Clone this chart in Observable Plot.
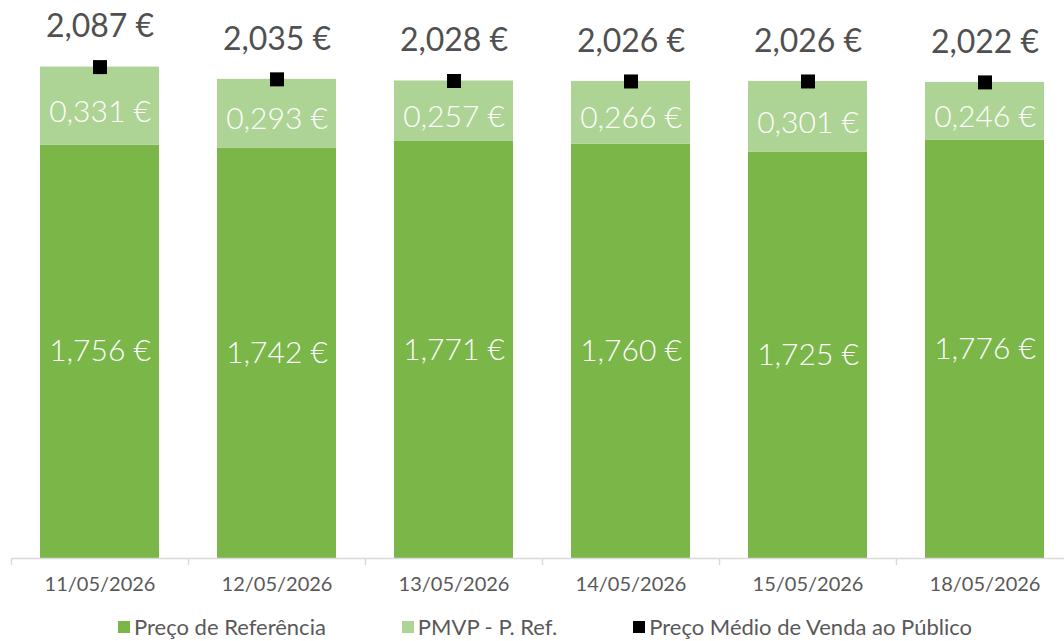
<!DOCTYPE html>
<html>
<head>
<meta charset="utf-8">
<script src="https://cdn.jsdelivr.net/npm/d3@7"></script>
<script src="https://cdn.jsdelivr.net/npm/@observablehq/plot@0.6"></script>
<style>
  body { margin: 0; background: #fff; font-family: Lato, "Open Sans", sans-serif; }
  #legend { display: flex; justify-content: center; gap: 76px; font-size: 22px; color: #595959; margin-left: 26px; margin-top: 10px; line-height: 24px; }
  #legend .it { display: flex; align-items: center; gap: 4px; }
  #legend .sw { width: 12px; height: 12px; display: inline-block; }
</style>
</head>
<body>
<div id="chart"></div>
<div id="legend"></div>
<script>
const dates = ["11/05/2026","12/05/2026","13/05/2026","14/05/2026","15/05/2026","18/05/2026"];
const precoReferencia = [1.756, 1.742, 1.771, 1.760, 1.725, 1.776];
const pmvpMenosRef = [0.331, 0.293, 0.257, 0.266, 0.301, 0.246];
const precoMedio = [2.087, 2.035, 2.028, 2.026, 2.026, 2.022];
const seriesNames = ["Preço de Referência", "PMVP - P. Ref.", "Preço Médio de Venda ao Público"];
const colors = ["#7AB648", "#ADD494", "#000000"];

const loc = d3.formatLocale({decimal: ",", thousands: ".", grouping: [3], currency: ["", " €"]});
const f3 = loc.format(".3f");
const fmt = v => f3(v) + " €";

const segs = [];
dates.forEach((d, i) => {
  segs.push({date: d, s: seriesNames[0], y1: 0, y2: precoReferencia[i], v: precoReferencia[i]});
  segs.push({date: d, s: seriesNames[1], y1: precoReferencia[i], y2: precoReferencia[i] + pmvpMenosRef[i], v: pmvpMenosRef[i]});
});
const totals = dates.map((d, i) => ({date: d, v: precoMedio[i]}));

const W = 1064, ML = 11, MR = -9;
const step = (W - ML - MR) / dates.length;

const plot = Plot.plot({
  width: W,
  height: 605,
  marginLeft: ML,
  marginRight: MR,
  marginTop: 40,
  marginBottom: 47,
  style: {fontFamily: "Lato, 'Open Sans', sans-serif", background: "#fff"},
  x: {domain: dates, paddingInner: 0.33, paddingOuter: 0.165, label: null},
  y: {domain: [0, 2.2], axis: null},
  color: {domain: seriesNames.slice(0, 2), range: colors.slice(0, 2)},
  marks: [
    Plot.barY(segs, {x: "date", y1: "y1", y2: "y2", fill: "s"}),
    Plot.ruleY([0], {stroke: "#d9d9d9", strokeWidth: 1.5}),
    Plot.axisX({tickSize: 7, stroke: "#d9d9d9", strokeWidth: 1.5, dx: -step / 2, tickFormat: () => ""}),
    Plot.axisX({tickSize: 0, tickPadding: 18, fontSize: 20, fill: "#595959", label: null}),
    Plot.text(segs.filter(d => d.s === seriesNames[0]), {x: "date", y: d => (d.y1 + d.y2) / 2, text: d => fmt(d.v), fill: "#fff", fontSize: 30, fontWeight: 300}),
    Plot.text(segs.filter(d => d.s === seriesNames[1]), {x: "date", y: d => (d.y1 + d.y2) / 2, dy: 6, text: d => fmt(d.v), fill: "#fff", fontSize: 30, fontWeight: 300}),
    Plot.dot(totals, {x: "date", y: "v", symbol: "square", r: 7.9, fill: "#000"}),
    Plot.text(totals, {x: "date", y: "v", text: d => fmt(d.v), dy: -40, fill: "#505050", fontSize: 32})
  ]
});
document.getElementById("chart").appendChild(plot);

const lg = document.getElementById("legend");
seriesNames.forEach((n, i) => {
  const it = document.createElement("span");
  it.className = "it";
  const sw = document.createElement("span");
  sw.className = "sw";
  sw.style.background = colors[i];
  it.appendChild(sw);
  it.appendChild(document.createTextNode(n));
  lg.appendChild(it);
});
</script>
</body>
</html>
